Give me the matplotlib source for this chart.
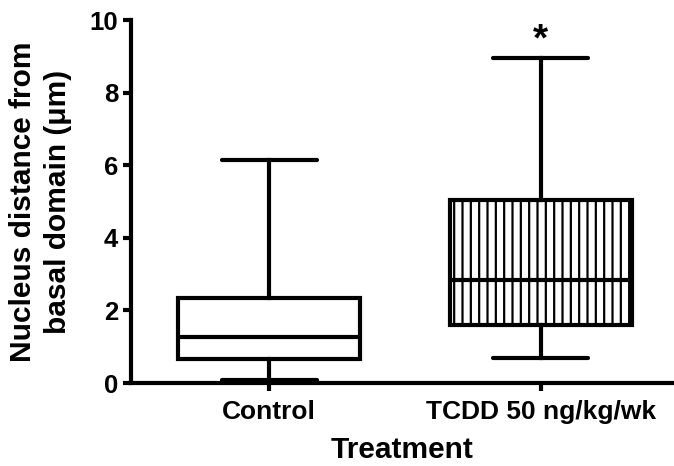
import matplotlib.pyplot as plt

# box stats
groups = ['Control', 'TCDD 50 ng/kg/wk']
whislo = [0.08, 0.69]
q1 = [0.66, 1.60]
med = [1.27, 2.84]
q3 = [2.34, 5.04]
whishi = [6.15, 8.95]

plt.rcParams['font.family'] = ['Liberation Sans', 'DejaVu Sans']
plt.rcParams['font.weight'] = 'bold'
plt.rcParams['hatch.linewidth'] = 1.6

fig = plt.figure(figsize=(6.74, 4.66), dpi=100)
ax = fig.add_axes([0.194, 0.178, 0.806, 0.779])

stats = []
for i in range(len(groups)):
    stats.append({'whislo': whislo[i], 'q1': q1[i], 'med': med[i],
                  'q3': q3[i], 'whishi': whishi[i], 'fliers': []})

lw = 3.0
bp = ax.bxp(stats, positions=[1, 2], widths=0.67, capwidths=0.35,
            patch_artist=True, showfliers=False,
            boxprops=dict(facecolor='white', edgecolor='black', linewidth=lw),
            medianprops=dict(color='black', linewidth=lw),
            whiskerprops=dict(color='black', linewidth=lw),
            capprops=dict(color='black', linewidth=lw, solid_capstyle='round'))
bp['boxes'][1].set_hatch('||')

ax.text(2, 9.45, '*', ha='center', va='center', fontsize=28, fontweight='bold')

ax.set_xlim(0.49, 2.49)
ax.set_ylim(0, 10)
ax.set_yticks([0, 2, 4, 6, 8, 10])
ax.set_xticks([1, 2])
ax.set_xticklabels(groups)
for s in ['top', 'right']:
    ax.spines[s].set_visible(False)
for s in ['left', 'bottom']:
    ax.spines[s].set_linewidth(lw)
ax.tick_params(axis='both', width=lw, length=6, direction='out', pad=3)
ax.tick_params(axis='x', labelsize=19, pad=6)
ax.tick_params(axis='y', labelsize=18.5)
ax.set_xlabel('Treatment', fontsize=21.5, fontweight='bold', labelpad=9)
ax.set_ylabel('Nucleus distance from\nbasal domain (μm)', fontsize=21.5,
              fontweight='bold', linespacing=1.3)
ax.yaxis.set_label_coords(-0.109, 0.5)

fig.savefig('out.png', dpi=100)
